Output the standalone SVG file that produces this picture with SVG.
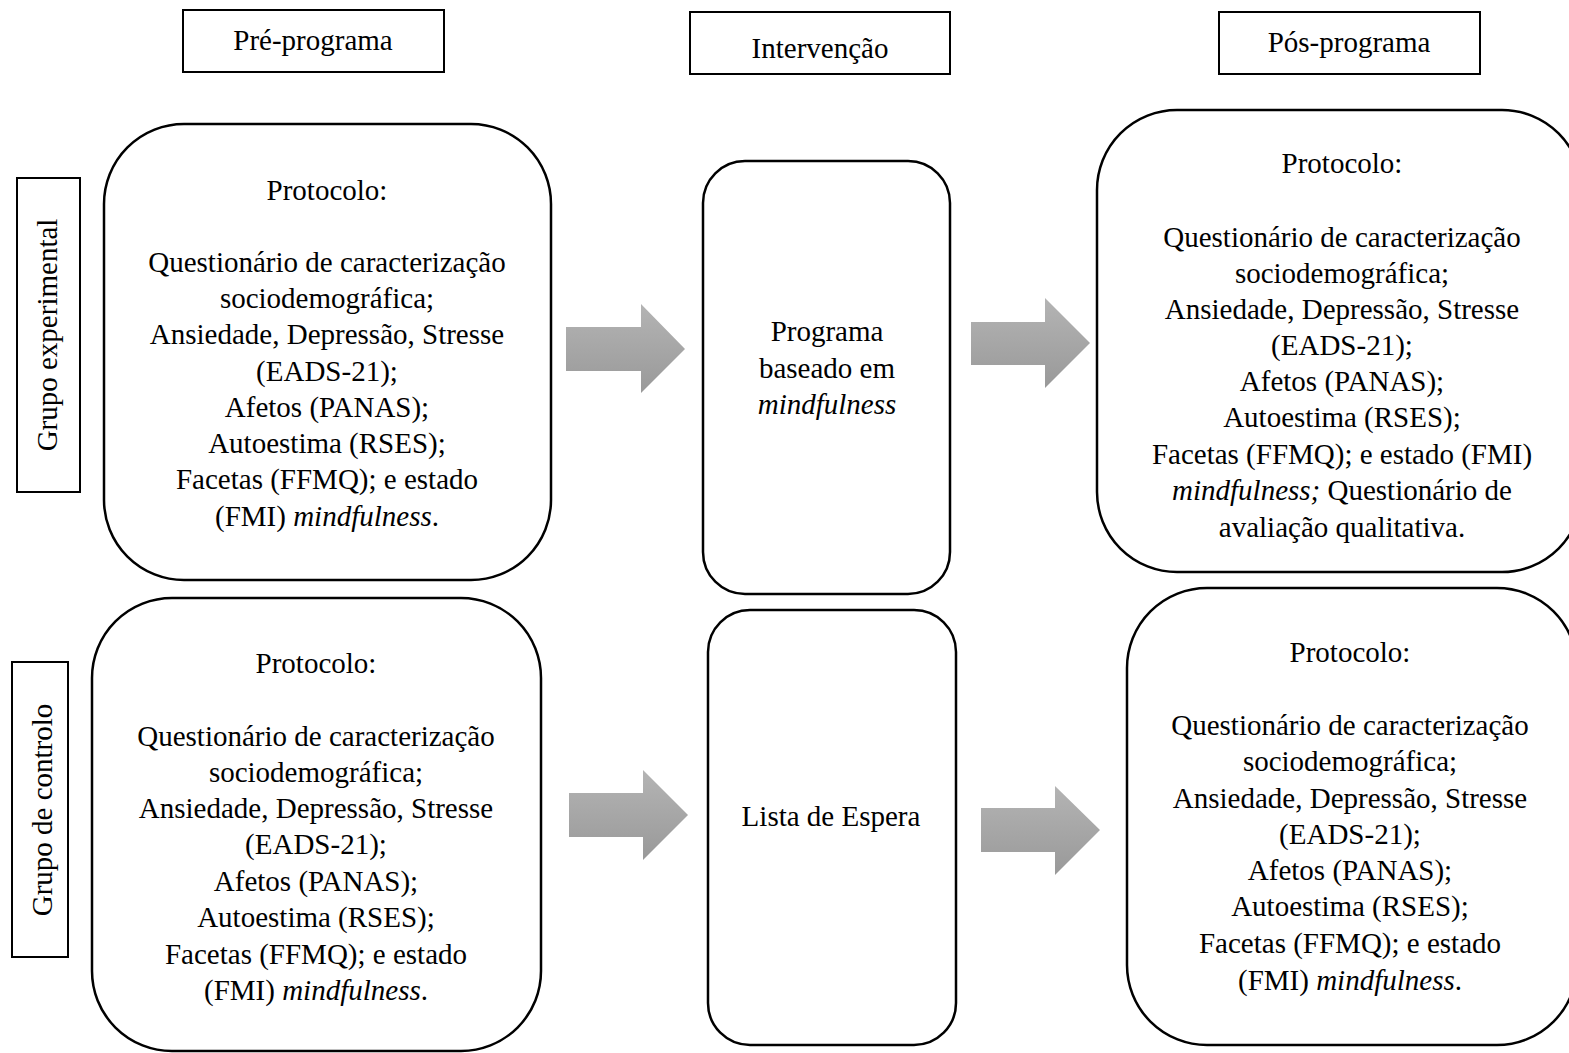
<svg xmlns="http://www.w3.org/2000/svg" width="1569" height="1053" viewBox="0 0 1569 1053">
<defs>
<linearGradient id="ag" x1="0" y1="0" x2="0" y2="1">
<stop offset="0" stop-color="#b4b4b4"/>
<stop offset="1" stop-color="#999999"/>
</linearGradient>
<style>
.t{font-family:"Liberation Serif","Times New Roman",serif;font-size:29px;fill:#000;text-anchor:middle}
.i{font-style:italic}
.b{fill:#fff;stroke:#000;stroke-width:2}
.r{fill:#fff;stroke:#000;stroke-width:2.5}
.a{fill:url(#ag)}
</style>
</defs>
<rect width="1569" height="1053" fill="#fff"/>

<g id="hdr-pre"><rect class="b" x="183" y="10" width="261" height="62"/><text class="t" x="313" y="50">Pré-programa</text></g>
<g id="hdr-int"><rect class="b" x="690" y="12" width="260" height="62"/><text class="t" x="820" y="58">Intervenção</text></g>
<g id="hdr-pos"><rect class="b" x="1219" y="12" width="261" height="62"/><text class="t" x="1349" y="52">Pós-programa</text></g>

<g id="lbl-exp"><rect class="b" x="17" y="178" width="63" height="314"/><text class="t" transform="translate(57,335) rotate(-90)">Grupo experimental</text></g>
<g id="lbl-ctl"><rect class="b" x="12" y="662" width="56" height="295"/><text class="t" transform="translate(52,810) rotate(-90)">Grupo de controlo</text></g>

<g id="exp-pre"><rect class="r" x="104" y="124" width="447" height="456" rx="80" ry="80"/>
<text class="t"><tspan x="327" y="200">Protocolo:</tspan><tspan x="327" y="272">Questionário de caracterização</tspan><tspan x="327" y="308">sociodemográfica;</tspan><tspan x="327" y="344">Ansiedade, Depressão, Stresse</tspan><tspan x="327" y="381">(EADS-21);</tspan><tspan x="327" y="417">Afetos (PANAS);</tspan><tspan x="327" y="453">Autoestima (RSES);</tspan><tspan x="327" y="489">Facetas (FFMQ); e estado</tspan><tspan x="327" y="526">(FMI) <tspan class="i">mindfulness</tspan>.</tspan></text></g>

<g id="exp-int"><rect class="r" x="703" y="161" width="247" height="433" rx="42" ry="42"/>
<text class="t"><tspan x="827" y="341">Programa</tspan><tspan x="827" y="378">baseado em</tspan><tspan x="827" y="414" class="i">mindfulness</tspan></text></g>

<g id="exp-pos"><rect class="r" x="1097" y="110" width="485" height="462" rx="80" ry="80"/>
<text class="t"><tspan x="1342" y="173">Protocolo:</tspan><tspan x="1342" y="247">Questionário de caracterização</tspan><tspan x="1342" y="283">sociodemográfica;</tspan><tspan x="1342" y="319">Ansiedade, Depressão, Stresse</tspan><tspan x="1342" y="355">(EADS-21);</tspan><tspan x="1342" y="391">Afetos (PANAS);</tspan><tspan x="1342" y="427">Autoestima (RSES);</tspan><tspan x="1342" y="464">Facetas (FFMQ); e estado (FMI)</tspan><tspan x="1342" y="500"><tspan class="i">mindfulness;</tspan> Questionário de</tspan><tspan x="1342" y="537">avaliação qualitativa.</tspan></text></g>

<g id="ctl-pre"><rect class="r" x="92" y="598" width="449" height="453" rx="80" ry="80"/>
<text class="t"><tspan x="316" y="673">Protocolo:</tspan><tspan x="316" y="746">Questionário de caracterização</tspan><tspan x="316" y="782">sociodemográfica;</tspan><tspan x="316" y="818">Ansiedade, Depressão, Stresse</tspan><tspan x="316" y="854">(EADS-21);</tspan><tspan x="316" y="891">Afetos (PANAS);</tspan><tspan x="316" y="927">Autoestima (RSES);</tspan><tspan x="316" y="964">Facetas (FFMQ); e estado</tspan><tspan x="316" y="1000">(FMI) <tspan class="i">mindfulness</tspan>.</tspan></text></g>

<g id="ctl-int"><rect class="r" x="708" y="610" width="248" height="435" rx="42" ry="42"/>
<text class="t" x="831" y="826">Lista de Espera</text></g>

<g id="ctl-pos"><rect class="r" x="1127" y="588" width="450" height="457" rx="80" ry="80"/>
<text class="t"><tspan x="1350" y="662">Protocolo:</tspan><tspan x="1350" y="735">Questionário de caracterização</tspan><tspan x="1350" y="771">sociodemográfica;</tspan><tspan x="1350" y="808">Ansiedade, Depressão, Stresse</tspan><tspan x="1350" y="844">(EADS-21);</tspan><tspan x="1350" y="880">Afetos (PANAS);</tspan><tspan x="1350" y="916">Autoestima (RSES);</tspan><tspan x="1350" y="953">Facetas (FFMQ); e estado</tspan><tspan x="1350" y="990">(FMI) <tspan class="i">mindfulness</tspan>.</tspan></text></g>

<g id="connectors">
<polygon class="a" points="566,327 641,327 641,304 685,349 641,393 641,371 566,371"/>
<polygon class="a" points="971,322 1045,322 1045,298 1090,343 1045,388 1045,365 971,365"/>
<polygon class="a" points="569,793 643,793 643,770 688,815 643,860 643,837 569,837"/>
<polygon class="a" points="981,808 1055,808 1055,786 1100,830 1055,875 1055,852 981,852"/>
</g>
</svg>
